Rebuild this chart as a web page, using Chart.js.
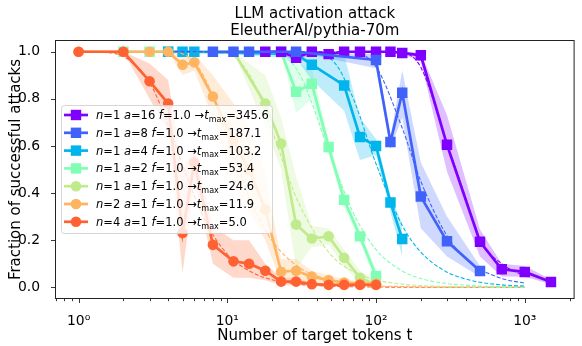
<!DOCTYPE html>
<html><head><meta charset="utf-8">
<script src="https://cdn.jsdelivr.net/npm/chart.js@4.4.1/dist/chart.umd.min.js"></script>
<style>html,body{margin:0;padding:0;background:#fff;}#wrap{width:582px;height:346px;position:relative;}</style>
</head><body><div id="wrap"><canvas id="c" width="582" height="346"></canvas></div>
<script>
// ---------- data ----------
const legendN = [1, 1, 1, 1, 1, 2, 4];
const legendA = [16, 8, 4, 2, 1, 1, 1];
const legendF = [1.0, 1.0, 1.0, 1.0, 1.0, 1.0, 1.0];
const legendTmax = [345.6, 187.1, 103.2, 53.4, 24.6, 11.9, 5.0];

const tPurple = [18,23,29,37,48,61,78,100,125,150,200,300,500,700,1000,1500];
const vPurple = [1,1,0.975,1,0.99,1,1,1,1,0.995,0.985,0.605,0.193,0.076,0.065,0.022];
const upPurple = [1,1,1,1,1,1,1,1,1,1,0.995,0.73,0.245,0.1,0.09,0.033];
const loPurple = [1,1,0.95,1,0.98,1,1,1,1,0.99,0.96,0.49,0.13,0.046,0.045,0.013];

const tBlue = [8,11,14,29,100,125,150,200,300,500];
const vBlue = [1,1,1,1,0.965,0.617,0.826,0.385,0.195,0.069];
const upBlue = [1,1,1,1,0.99,0.64,0.92,0.53,0.3,0.09];
const loBlue = [1,1,1,1,0.93,0.59,0.72,0.25,0.13,0.045];

const tCyan = [4,5,6,29,37,61,78,100,125,150];
const vCyan = [1,1,1,0.99,0.945,0.857,0.638,0.6,0.36,0.205];
const upCyan = [1,1,1,1,0.99,0.99,0.72,0.63,0.39,0.27];
const loCyan = [1,1,1,0.97,0.88,0.75,0.54,0.56,0.32,0.13];

const tMint = [2,3,4,23,29,37,48,61,78,100];
const vMint = [1,1,1,1,0.83,0.864,0.596,0.371,0.216,0.048];
const upMint = [1,1,1,1,0.95,0.93,0.63,0.4,0.24,0.075];
const loMint = [1,1,1,1,0.74,0.8,0.56,0.34,0.19,0.02];

const tLgreen = [11,18,23,29,37,48,61,78,100];
const vLgreen = [1,0.78,0.61,0.266,0.207,0.216,0.125,0.04,0.01];
const upLgreen = [1,0.9,0.72,0.47,0.26,0.25,0.16,0.07,0.03];
const loLgreen = [1,0.68,0.5,0.08,0.17,0.18,0.09,0.015,0.0];

const tOrange = [1,2,3,4,5,6,8,11,14,18,23,29,37,48,61,78,100];
const vOrange = [1,1,1,1,0.945,0.955,0.81,0.62,0.5,0.33,0.066,0.07,0.045,0.03,0.02,0.015,0.015];
const upOrange = [1,1,1,1,0.99,0.99,0.9,0.78,0.68,0.48,0.12,0.12,0.07,0.05,0.035,0.025,0.025];
const loOrange = [1,1,1,1,0.9,0.92,0.72,0.45,0.32,0.2,0.02,0.03,0.02,0.012,0.008,0.005,0.005];

const tRed = [1,2,3,4,5,6,8,11,14,18,23,29,37,48,61,78,100];
const vRed = [1,1,0.875,0.78,0.23,0.53,0.18,0.11,0.10,0.07,0.024,0.024,0.013,0.01,0.01,0.01,0.01];
const upRed = [1,1,0.95,0.88,0.5,0.6,0.26,0.2,0.2,0.1,0.04,0.04,0.02,0.012,0.012,0.012,0.012];
const loRed = [1,1,0.8,0.66,0.06,0.45,0.1,0.04,0.04,0.03,0.008,0.008,0.006,0.006,0.006,0.006,0.006];

// dashed fitted curves
const tFit = [1,1.5,2,3,4,5,7,10,15,20,30,50,70,100,150,200,300,400,500,700,1000];
const fitPurple = [1,1,1,1,1,1,1,1,1,1,1,1,1,1,0.996,0.934,0.61,0.38,0.2,0.1,0.046];
const fitBlue   = [1,1,1,1,1,1,1,1,1,1,1,1,0.9975,0.936,0.676,0.45,0.218,0.122,0.077,0.037,0.017];
const fitCyan   = [1,1,1,1,1,1,1,1,1,1,1,0.967,0.804,0.524,0.262,0.149,0.064,0.035,0.021,0.010,0.005];
const fitMint   = [1,1,1,1,1,1,1,1,1,0.9975,0.915,0.551,0.318,0.160,0.069,0.037,0.015,0.009,0.005,0.003,0.001];
const fitLgreen = [1,1,1,1,1,1,1,0.993,0.872,0.664,0.361,0.136,0.067,0.031,0.013,0.007,0.003,0.002,0.001,0.0005,0.0002];
const fitOrange = [1,1,1,1,0.9995,0.991,0.892,0.638,0.341,0.198,0.087,0.029,0.014,0.006,0.003,0.001,0.0005,0,0,0,0];
const fitRed    = [1,0.997,0.98,0.87,0.69,0.52,0.29,0.14,0.06,0.032,0.013,0.004,0.002,0.001,0,0,0,0,0,0,0];

const yTicks = [0, 0.2, 0.4, 0.6, 0.8, 1.0];
const xMajor = [1, 10, 100, 1000];
const xTickLabels = ['10\u2070', '10\u00B9', '10\u00B2', '10\u00B3'];

// ---------- styles ----------
const FONT = '"DejaVu Sans", "Liberation Sans", sans-serif';
const colors = [[128,0,255],[64,98,250],[0,181,235],[128,255,180],[192,235,141],[255,180,98],[255,98,50]];
const shapes = ['rect','rect','rect','rect','circle','circle','circle'];
const solidOrder = [4,3,7,9,8,2,1];
const series = [
  {t:tPurple,v:vPurple,up:upPurple,lo:loPurple,fit:fitPurple},
  {t:tBlue,v:vBlue,up:upBlue,lo:loBlue,fit:fitBlue},
  {t:tCyan,v:vCyan,up:upCyan,lo:loCyan,fit:fitCyan},
  {t:tMint,v:vMint,up:upMint,lo:loMint,fit:fitMint},
  {t:tLgreen,v:vLgreen,up:upLgreen,lo:loLgreen,fit:fitLgreen},
  {t:tOrange,v:vOrange,up:upOrange,lo:loOrange,fit:fitOrange},
  {t:tRed,v:vRed,up:upRed,lo:loRed,fit:fitRed}
];
const rgba = (c,a) => `rgba(${c[0]},${c[1]},${c[2]},${a})`;
const pts = (xs, ys) => xs.map((x,i) => ({x: x, y: ys[i]}));

const datasets = [];
series.forEach((s, i) => {
  const c = colors[i];
  datasets.push({data: pts(s.t, s.up), fill: '+1', backgroundColor: rgba(c,0.25), borderWidth: 0, pointRadius: 0, order: 20});
  datasets.push({data: pts(s.t, s.lo), fill: false, borderWidth: 0, pointRadius: 0, order: 20});
});
series.forEach((s, i) => {
  const c = colors[i];
  datasets.push({data: pts(tFit, s.fit), borderColor: rgba(c,1), borderWidth: 1.1, borderDash: [4,2],
    pointRadius: 0, fill: false, cubicInterpolationMode: 'monotone', order: i === 1 ? 5 : 6});
});
series.forEach((s, i) => {
  const c = colors[i];
  datasets.push({data: pts(s.t, s.v), borderColor: rgba(c,1), backgroundColor: rgba(c,1), borderWidth: 2.7,
    pointStyle: shapes[i], pointRadius: shapes[i] === 'rect' ? 7.4 : 5.3, pointBorderWidth: 0,
    pointHoverRadius: 0, fill: false, order: solidOrder[i]});
});

function drawRich(ctx, parts, x, y, size) {
  for (const [txt, st] of parts) {
    let dy = 0;
    if (st === 'i') ctx.font = `italic ${size}px ${FONT}`;
    else if (st === 's') { ctx.font = `${(size*0.7).toFixed(2)}px ${FONT}`; dy = size*0.25; }
    else ctx.font = `${size}px ${FONT}`;
    ctx.fillText(txt, x, y + dy);
    x += ctx.measureText(txt).width;
  }
}

const decor = {
  id: 'decor',
  beforeDraw(chart) {
    const ctx = chart.ctx;
    ctx.save(); ctx.fillStyle = '#fff'; ctx.fillRect(0,0,chart.width,chart.height); ctx.restore();
  },
  afterDatasetsDraw(chart) {
    const ctx = chart.ctx, a = chart.chartArea, xs = chart.scales.x, ys = chart.scales.y;
    ctx.save();
    // frame
    ctx.strokeStyle = '#222'; ctx.lineWidth = 1;
    ctx.strokeRect(a.left + 0.5, a.top + 0.5, a.right - a.left - 1, a.bottom - a.top - 1);
    // ticks
    ctx.beginPath();
    yTicks.forEach(v => { const y = Math.round(ys.getPixelForValue(v)) + 0.5; ctx.moveTo(a.left - 4, y); ctx.lineTo(a.left, y); });
    for (let e = -1; e <= 3; e++) {
      for (let k = 1; k <= 9; k++) {
        const v = k * Math.pow(10, e);
        if (v < xs.min || v > xs.max) continue;
        const x = Math.round(xs.getPixelForValue(v)) + 0.5;
        const len = k === 1 ? 4 : 2.2;
        ctx.moveTo(x, a.bottom); ctx.lineTo(x, a.bottom + len);
      }
    }
    ctx.lineWidth = 0.9; ctx.stroke();
    // title
    ctx.fillStyle = '#000'; ctx.textAlign = 'center'; ctx.textBaseline = 'middle';
    ctx.font = `15px ${FONT}`;
    const cx = (a.left + a.right) / 2;
    ctx.fillText('LLM activation attack', cx, 14);
    ctx.fillText('EleutherAI/pythia-70m', cx, 31);
    // legend
    const lx = 61, ly = 105, lw = 211, lh = 128;
    ctx.beginPath();
    ctx.roundRect(lx + 0.5, ly + 0.5, lw, lh, 3);
    ctx.fillStyle = 'rgba(255,255,255,0.8)'; ctx.fill();
    ctx.strokeStyle = 'rgba(204,204,204,0.8)'; ctx.lineWidth = 1; ctx.stroke();
    ctx.textAlign = 'left'; ctx.textBaseline = 'alphabetic';
    for (let i = 0; i < 7; i++) {
      const y = 115 + i * 17.8;
      const c = rgba(colors[i], 1);
      ctx.strokeStyle = c; ctx.lineWidth = 2.7;
      ctx.beginPath(); ctx.moveTo(64, y); ctx.lineTo(88, y); ctx.stroke();
      ctx.fillStyle = c;
      if (shapes[i] === 'rect') ctx.fillRect(76 - 5.2, y - 5.2, 10.4, 10.4);
      else { ctx.beginPath(); ctx.arc(76, y, 5.3, 0, Math.PI*2); ctx.fill(); }
      ctx.fillStyle = '#000';
      const parts = [['n','i'],['=' + legendN[i] + ' ','r'],['a','i'],['=' + legendA[i] + ' ','r'],['f','i'],
        ['=' + legendF[i].toFixed(1) + ' \u2192','r'],['t','i'],['max','s'],['=' + legendTmax[i].toFixed(1),'r']];
      drawRich(ctx, parts, 96, y + 4, 11.5);
    }
    ctx.restore();
  }
};

new Chart(document.getElementById('c'), {
  type: 'line',
  data: {datasets},
  options: {
    responsive: false, animation: false, devicePixelRatio: 1,
    layout: {padding: {top: 40, right: 7, left: 0, bottom: 0}},
    plugins: {legend: {display: false}, tooltip: {enabled: false}, title: {display: false}},
    elements: {line: {tension: 0}},
    scales: {
      x: {
        type: 'logarithmic', min: 0.694, max: 2163, bounds: 'data',
        grid: {display: false}, border: {display: false},
        afterBuildTicks: (s) => { s.ticks = xMajor.map(v => ({value: v, major: true})); },
        afterFit: (s) => { s.height = 47; },
        ticks: {autoSkip: false, maxRotation: 0, padding: 6, color: '#000', font: {family: FONT, size: 13.9},
          callback: (v) => { const i = xMajor.indexOf(v); return i >= 0 ? xTickLabels[i] : ''; }},
        title: {display: true, text: 'Number of target tokens t', color: '#000', font: {family: FONT, size: 15}, padding: {top: 0, bottom: 1}}
      },
      y: {
        type: 'linear', min: -0.05, max: 1.05,
        grid: {display: false}, border: {display: false},
        afterBuildTicks: (s) => { s.ticks = yTicks.map(v => ({value: v})); },
        afterFit: (s) => { s.width = 55; },
        ticks: {padding: 7, color: '#000', font: {family: FONT, size: 13.9}, callback: (v) => Number(v).toFixed(1)},
        title: {display: true, text: 'Fraction of successful attacks', color: '#000', font: {family: FONT, size: 15}, padding: {top: 7, bottom: 0}}
      }
    }
  },
  plugins: [decor]
});
</script></body></html>
